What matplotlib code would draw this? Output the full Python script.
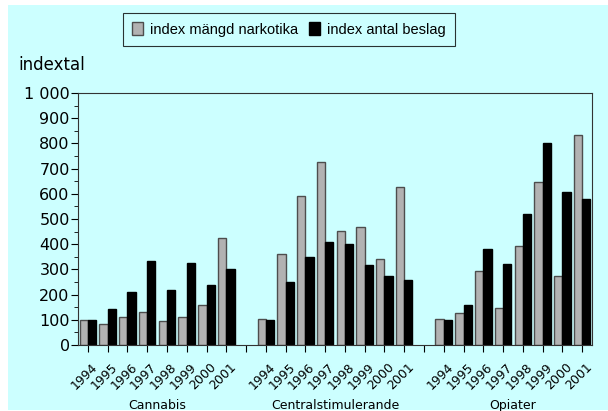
import numpy as np
import matplotlib
matplotlib.use('Agg')
import matplotlib.pyplot as plt
import matplotlib.transforms as mtransforms
from matplotlib.patches import Rectangle

plt.rcParams['font.family'] = ['DejaVu Sans']

groups = ['Cannabis', 'Centralstimulerande', 'Opiater']
years = ['1994', '1995', '1996', '1997', '1998', '1999', '2000', '2001']

# index mängd narkotika (grå)
mangd = {
    'Cannabis': [100, 83, 110, 130, 97, 112, 160, 425],
    'Centralstimulerande': [102, 361, 591, 727, 452, 468, 343, 628],
    'Opiater': [102, 127, 294, 147, 393, 647, 274, 835],
}
# index antal beslag (svart)
beslag = {
    'Cannabis': [98, 142, 210, 333, 218, 325, 238, 301],
    'Centralstimulerande': [99, 250, 349, 409, 401, 317, 274, 258],
    'Opiater': [99, 159, 381, 323, 520, 803, 607, 580],
}

bg = '#CCFFFF'
fig = plt.figure(figsize=(6.08, 4.11), dpi=100)
fig.patch.set_facecolor('white')
fig.add_artist(Rectangle((8/608, 1/411), 1 - 8/608, 1 - 6/411,
                         transform=fig.transFigure, facecolor=bg,
                         edgecolor='none', zorder=-5))

ax = fig.add_axes([78/608, 1 - 345/411, 514/608, 252/411])
ax.set_facecolor(bg)

w = 0.42
ticks = []
ticklabels = []
for g, name in enumerate(groups):
    x0 = g * 9
    x = x0 + np.arange(len(years))
    ax.bar(x - w/2, mangd[name], width=w, color='#B2B2B2', edgecolor='#4D4D4D',
           linewidth=1, zorder=2)
    ax.bar(x + w/2, beslag[name], width=w, color='black', edgecolor='black',
           linewidth=1, zorder=2)
    ticks += list(x)
    ticklabels += years
    if g < len(groups) - 1:
        ticks.append(x0 + 8)
        ticklabels.append('')
    ax.text(x0 + 3.5, -64/252, name, transform=ax.get_xaxis_transform(),
            ha='center', va='baseline', fontsize=9)

ax.set_xlim(-0.5, 25.5)
ax.set_ylim(0, 1000)
ax.set_xticks(ticks)
ax.set_xticklabels(ticklabels, rotation=45, ha='right', rotation_mode='anchor',
                   fontsize=9)
ax.tick_params(axis='x', length=5, pad=6)
shift = mtransforms.ScaledTranslation(3/100, 0, fig.dpi_scale_trans)
for lab in ax.get_xticklabels():
    lab.set_transform(lab.get_transform() + shift)
ax.set_yticks(np.arange(0, 1001, 100))
ax.set_yticklabels(['0' if v == 0 else ('1 000' if v == 1000 else str(v))
                    for v in range(0, 1001, 100)], fontsize=11.5)
ax.set_yticks(np.arange(50, 1000, 100), minor=True)
ax.tick_params(axis='y', which='major', length=5, pad=1)
ax.tick_params(axis='y', which='minor', length=3)
for s in ax.spines.values():
    s.set_linewidth(0.8)
    s.set_color('#333333')

fig.text(18/608, 1 - 65/411, 'indextal', fontsize=12, va='center', ha='left')

h1 = Rectangle((0, 0), 1, 1, facecolor='#B2B2B2', edgecolor='#4D4D4D')
h2 = Rectangle((0, 0), 1, 1, facecolor='black', edgecolor='black')
leg = fig.legend([h1, h2], ['index mängd narkotika', 'index antal beslag'],
                 loc='center', bbox_to_anchor=(289/608, 1 - 29.5/411), ncol=2,
                 prop={'family': 'Liberation Sans', 'size': 10.5},
                 frameon=True, fancybox=False, handlelength=0.75,
                 handleheight=1.0, handletextpad=0.5, columnspacing=0.75,
                 borderpad=0.6, borderaxespad=0)
leg.get_frame().set_facecolor(bg)
leg.get_frame().set_edgecolor('black')
leg.get_frame().set_linewidth(0.8)

plt.savefig('out.png', dpi=100)
